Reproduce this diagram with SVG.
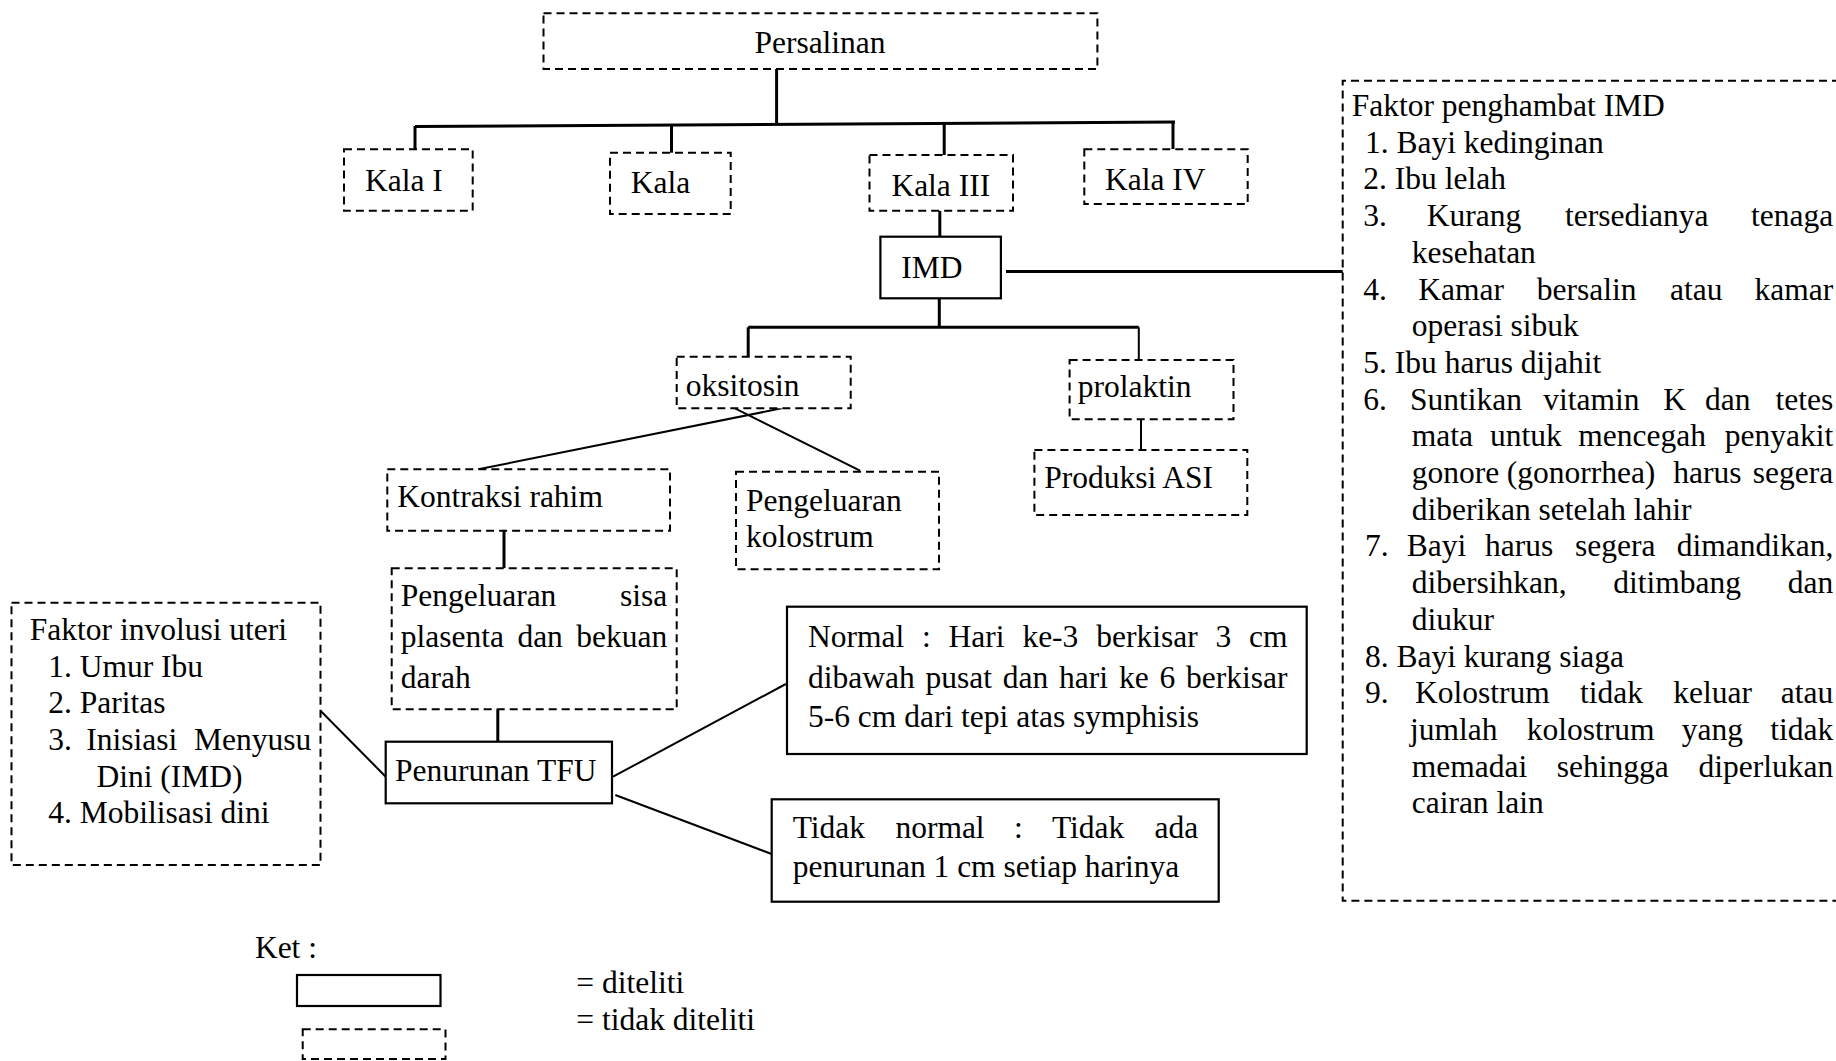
<svg xmlns="http://www.w3.org/2000/svg" width="1836" height="1061" viewBox="0 0 1836 1061">
<style>
text{font-family:"Liberation Serif","Times New Roman",serif;font-size:31.5px;fill:#000}
.d{fill:#fff;stroke:#000;stroke-width:2;stroke-dasharray:8 5}
.s{fill:#fff;stroke:#000;stroke-width:2.2}
.t{fill:none;stroke:#000;stroke-width:3}
.n{fill:none;stroke:#000;stroke-width:2}
</style>
<rect width="1836" height="1061" fill="#fff"/>
<g id="connectors">
<path class="t" d="M776.6 69 V124.5"/>
<path class="t" d="M415 126.5 L1175 122"/>
<path class="t" d="M415 126 V150"/>
<path class="t" d="M671.5 125 V153"/>
<path class="t" d="M944.2 123.5 V155"/>
<path class="t" d="M1173 122.5 V149"/>
<path class="t" d="M939.8 210.7 V237"/>
<path class="t" d="M1006 271.6 H1342.7"/>
<path class="t" d="M939.3 298.3 V327.3"/>
<path class="t" d="M748.2 327.3 H1138.8"/>
<path class="t" d="M748.2 327.3 V356.7"/>
<path class="n" d="M1138.8 327.3 V360"/>
<path class="n" d="M781.7 408.3 L478.3 469.3"/>
<path class="n" d="M735 408.3 L860 470.7"/>
<path class="n" d="M1141 419.3 V450"/>
<path class="t" d="M504 530.7 V568.3"/>
<path class="t" d="M497.8 709.3 V741.7"/>
<path class="n" d="M320.5 710.7 L385.7 776.7"/>
<path class="n" d="M613 776.7 L785.8 684"/>
<path class="n" d="M615.3 795 L771.7 854"/>
</g>
<g id="persalinan"><rect class="d" x="543.5" y="13.3" width="553.9" height="55.7"/><text x="820" y="53" text-anchor="middle">Persalinan</text></g>
<g id="kala1"><rect class="d" x="344" y="149.3" width="128.7" height="61.4"/><text x="365" y="190.7">Kala I</text></g>
<g id="kala2"><rect class="d" x="610" y="152.7" width="120.7" height="61.3"/><text x="630.7" y="193.3">Kala</text></g>
<g id="kala3"><rect class="d" x="869.5" y="155" width="143.5" height="55.7"/><text x="891.4" y="196">Kala III</text></g>
<g id="kala4"><rect class="d" x="1084.3" y="149.3" width="163.4" height="54.7"/><text x="1105" y="190">Kala IV</text></g>
<g id="imd"><rect class="s" x="880.4" y="236.7" width="120.5" height="61.6"/><text x="901.3" y="278.3">IMD</text></g>
<g id="faktor-penghambat">
<path class="d" style="fill:none" d="M1840 80.7 H1342.7 V900.7 H1840"/>
<text x="1351.7" y="116">Faktor penghambat IMD</text>
<text x="1365" y="152.7">1. Bayi kedinginan</text>
<text x="1363.3" y="189.4">2. Ibu lelah</text>
<text y="226.1"><tspan x="1363.3">3.</tspan><tspan x="1426.7">Kurang</tspan><tspan x="1565">tersedianya</tspan><tspan x="1751.1">tenaga</tspan></text>
<text x="1411.7" y="262.8">kesehatan</text>
<text y="299.5"><tspan x="1363.3">4.</tspan><tspan x="1418.3">Kamar</tspan><tspan x="1536.7">bersalin</tspan><tspan x="1670">atau</tspan><tspan x="1754.6">kamar</tspan></text>
<text x="1411.7" y="336.2">operasi sibuk</text>
<text x="1363.3" y="372.9">5. Ibu harus dijahit</text>
<text y="409.6"><tspan x="1363.3">6.</tspan><tspan x="1410">Suntikan</tspan><tspan x="1543.3">vitamin</tspan><tspan x="1663.3">K</tspan><tspan x="1705">dan</tspan><tspan x="1775.6">tetes</tspan></text>
<text y="446.3"><tspan x="1411.7">mata</tspan><tspan x="1490">untuk</tspan><tspan x="1578.3">mencegah</tspan><tspan x="1724.8">penyakit</tspan></text>
<text y="483"><tspan x="1411.7">gonore</tspan><tspan x="1506.7">(gonorrhea)</tspan><tspan x="1673.3">harus</tspan><tspan x="1752.8">segera</tspan></text>
<text x="1411.7" y="519.7">diberikan setelah lahir</text>
<text y="556.4"><tspan x="1365">7.</tspan><tspan x="1406.7">Bayi</tspan><tspan x="1485">harus</tspan><tspan x="1575">segera</tspan><tspan x="1676.7">dimandikan,</tspan></text>
<text y="593.1"><tspan x="1411.7">dibersihkan,</tspan><tspan x="1613.3">ditimbang</tspan><tspan x="1787.8">dan</tspan></text>
<text x="1411.7" y="629.8">diukur</text>
<text x="1365" y="666.5">8. Bayi kurang siaga</text>
<text y="703.2"><tspan x="1365">9.</tspan><tspan x="1415">Kolostrum</tspan><tspan x="1580">tidak</tspan><tspan x="1673.3">keluar</tspan><tspan x="1780.8">atau</tspan></text>
<text y="739.9"><tspan x="1410">jumlah</tspan><tspan x="1526.7">kolostrum</tspan><tspan x="1681.7">yang</tspan><tspan x="1770.3">tidak</tspan></text>
<text y="776.6"><tspan x="1411.7">memadai</tspan><tspan x="1556.7">sehingga</tspan><tspan x="1698.6">diperlukan</tspan></text>
<text x="1411.7" y="813.3">cairan lain</text>
</g>
<g id="oksitosin"><rect class="d" x="676.7" y="356.7" width="174" height="51.6"/><text x="685.7" y="395.7">oksitosin</text></g>
<g id="prolaktin"><rect class="d" x="1069.6" y="360" width="163.9" height="59.3"/><text x="1077.7" y="397">prolaktin</text></g>
<g id="produksi-asi"><rect class="d" x="1034.4" y="450" width="212.9" height="65"/><text x="1044.2" y="488.3">Produksi ASI</text></g>
<g id="kontraksi-rahim"><rect class="d" x="387.3" y="469.3" width="282.7" height="61.4"/><text x="397.3" y="506.7">Kontraksi rahim</text></g>
<g id="pengeluaran-kolostrum"><rect class="d" x="736" y="471.7" width="203" height="97.6"/><text x="746" y="510.7">Pengeluaran</text><text x="746" y="547.4">kolostrum</text></g>
<g id="pengeluaran-sisa"><rect class="d" x="391.7" y="568.3" width="285" height="141"/>
<text y="606"><tspan x="400.7">Pengeluaran</tspan><tspan x="620">sisa</tspan></text>
<text y="647.3"><tspan x="400.7">plasenta</tspan><tspan x="517.4">dan</tspan><tspan x="576.3">bekuan</tspan></text>
<text x="400.7" y="688.3">darah</text></g>
<g id="faktor-involusi"><rect class="d" x="11.5" y="602.7" width="309" height="262.3"/>
<text x="29.8" y="640">Faktor involusi uteri</text>
<text x="48.2" y="676.7">1. Umur Ibu</text>
<text x="48.2" y="713.3">2. Paritas</text>
<text y="750"><tspan x="48.2">3.</tspan><tspan x="86.3">Inisiasi</tspan><tspan x="194.1">Menyusu</tspan></text>
<text x="96.4" y="786.7">Dini (IMD)</text>
<text x="48.2" y="823.3">4. Mobilisasi dini</text></g>
<g id="penurunan-tfu"><rect class="s" x="385.7" y="741.7" width="226.3" height="61.6"/><text x="394.9" y="780.7">Penurunan TFU</text></g>
<g id="normal"><rect class="s" x="787" y="606.7" width="519.7" height="147.3"/>
<text y="646.7"><tspan x="808">Normal</tspan><tspan x="922">:</tspan><tspan x="948.6">Hari</tspan><tspan x="1022.4">ke-3</tspan><tspan x="1096.2">berkisar</tspan><tspan x="1215.5">3</tspan><tspan x="1249">cm</tspan></text>
<text y="688.3"><tspan x="808">dibawah</tspan><tspan x="925.5">pusat</tspan><tspan x="1002.8">dan</tspan><tspan x="1059.1">hari</tspan><tspan x="1118.9">ke</tspan><tspan x="1159.4">6</tspan><tspan x="1186">berkisar</tspan></text>
<text x="808" y="726.7">5-6 cm dari tepi atas symphisis</text></g>
<g id="tidak-normal"><rect class="s" x="771.7" y="799.3" width="447" height="102.4"/>
<text y="838.3"><tspan x="792.7">Tidak</tspan><tspan x="895.4">normal</tspan><tspan x="1013.9">:</tspan><tspan x="1051.9">Tidak</tspan><tspan x="1154.6">ada</tspan></text>
<text x="792.7" y="876.7">penurunan 1 cm setiap harinya</text></g>
<g id="legend">
<text x="254.9" y="958.3">Ket :</text>
<rect class="s" x="297" y="975" width="143.5" height="31"/>
<rect class="d" x="302.7" y="1029.3" width="142.8" height="29.7"/>
<text x="576.3" y="992.7">= diteliti</text>
<text x="576.3" y="1030">= tidak diteliti</text>
</g>
</svg>
